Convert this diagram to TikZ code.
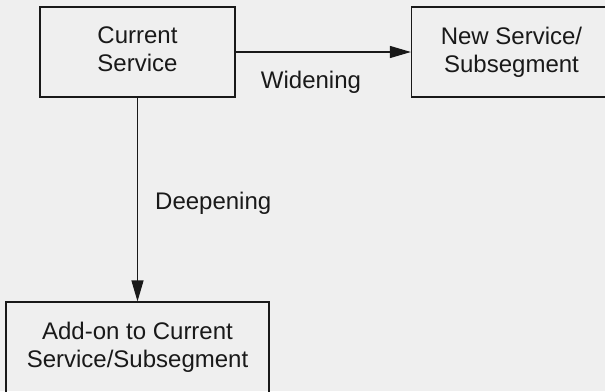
\documentclass[tikz,border=0pt]{standalone}
\usepackage{fontspec}
\setmainfont{Liberation Sans}
\usetikzlibrary{arrows.meta}
\definecolor{bg}{RGB}{239,239,239}
\definecolor{ink}{RGB}{25,25,25}
\tikzset{
  box/.style={draw=ink, line width=1.2pt, inner sep=0pt, align=center,
    font=\fontsize{24}{28}\selectfont, text=ink, text depth=5pt},
  lbl/.style={inner sep=0pt, font=\fontsize{24}{28}\selectfont, text=ink},
  conn/.style={draw=ink, line width=1.2pt, -{Triangle[length=21pt,width=12pt]}}
}
\begin{document}
\begin{tikzpicture}[x=1pt,y=-1pt]
\fill[bg] (0,0) rectangle (605,391);
\useasboundingbox (0,0) rectangle (605,391);
\begin{scope}
\clip (0,0) rectangle (605,391);
\node[box, minimum width=195pt, minimum height=90pt] (cur) at (137.5,52) {Current\\Service};
\node[box, minimum width=200pt, minimum height=90pt] (new) at (511.5,52) {New Service/\\Subsegment};
\node[box, minimum width=263pt, minimum height=91pt] (add) at (137.5,347.5) {Add-on to Current\\Service/Subsegment};
\end{scope}
\draw[conn] (cur.east) -- (new.west);
\draw[conn] (cur.south) -- (add.north);
\node[lbl, anchor=base] (wlab) at (311,88) {Widening};
\node[lbl, anchor=base west] (dlab) at (155,209) {Deepening};
\end{tikzpicture}
\end{document}
